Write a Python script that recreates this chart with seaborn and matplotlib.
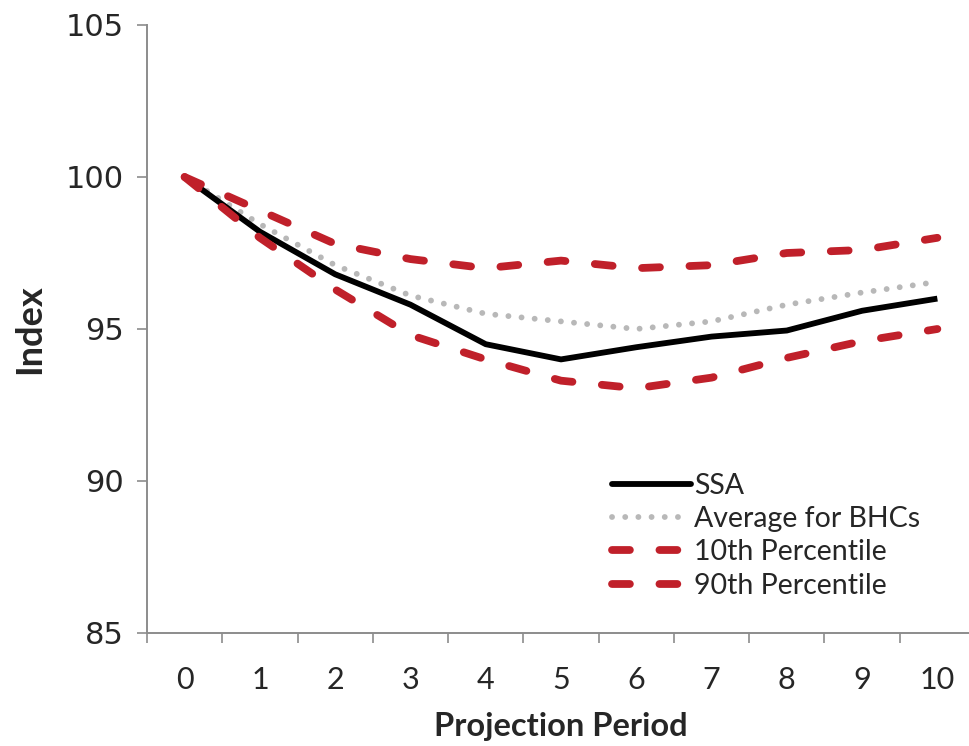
import matplotlib
matplotlib.use("Agg")
import matplotlib.pyplot as plt
from matplotlib.lines import Line2D
import numpy as np
import pandas as pd
import seaborn as sns

# Projection periods and index paths
periods = [0, 1, 2, 3, 4, 5, 6, 7, 8, 9, 10]
ssa = [100.0, 98.2, 96.8, 95.8, 94.5, 94.0, 94.4, 94.75, 94.95, 95.6, 96.0]
avg_bhc = [100.0, 98.45, 97.1, 96.1, 95.5, 95.25, 95.0, 95.25, 95.8, 96.2, 96.55]
p10 = [100.0, 98.0, 96.3, 94.8, 94.0, 93.3, 93.05, 93.4, 94.05, 94.6, 95.0]
p90 = [100.0, 98.9, 97.8, 97.3, 97.0, 97.25, 97.0, 97.1, 97.5, 97.6, 98.0]
series_names = ["SSA", "Average for BHCs", "10th Percentile", "90th Percentile"]
y_ticks = [85, 90, 95, 100, 105]

sns.set_theme(style="white")
plt.rcParams["font.family"] = ["DejaVu Sans"]

df = pd.DataFrame({
    "period": periods * 4,
    "value": ssa + avg_bhc + p10 + p90,
    "series": np.repeat(series_names, len(periods)),
})

fig = plt.figure(figsize=(9.70, 7.46), dpi=100)
ax = fig.add_axes([147 / 970, 1 - 633 / 746, (975 - 147) / 970, (633 - 25) / 746])

red = "#C0202A"
grey = "#B8B8B8"
dash = (0, (2.3, 3.8))
styles = {
    "SSA": dict(color="black", lw=4.2, ls="-", zorder=3),
    "Average for BHCs": dict(color=grey, lw=4.2, ls=(0, (0.01, 2.25)), zorder=2),
    "10th Percentile": dict(color=red, lw=5.6, ls=dash, zorder=4),
    "90th Percentile": dict(color=red, lw=5.6, ls=dash, zorder=4),
}

for name in series_names:
    st = styles[name]
    sub = df[df["series"] == name]
    sns.lineplot(data=sub, x="period", y="value", ax=ax, color=st["color"],
                 linewidth=st["lw"], legend=False, zorder=st["zorder"])
    line = ax.lines[-1]
    line.set_linestyle(st["ls"])
    line.set_dash_capstyle("round")
    line.set_solid_capstyle("butt")

label_family = ["Lato"]

ax.set_xlim(-0.5, 10.5)
ax.set_ylim(85, 105)
ax.set_yticks(y_ticks)
ax.set_xticks(periods)
ax.set_xticks(np.arange(-0.5, 10.6, 1.0), minor=True)
ax.tick_params(axis="x", which="major", length=0, pad=24, labelsize=22)
ax.tick_params(axis="x", which="minor", length=7, width=1.2, color="#8c8c8c", direction="out", bottom=True)
ax.tick_params(axis="y", which="major", length=7, width=1.2, color="#8c8c8c", direction="out", left=True,
               labelsize=22, pad=10)
for lab in ax.get_xticklabels():
    lab.set_family(label_family)

for s in ["top", "right"]:
    ax.spines[s].set_visible(False)
for s in ["left", "bottom"]:
    ax.spines[s].set_color("#8c8c8c")
    ax.spines[s].set_linewidth(1.4)

ax.set_xlabel("Projection Period", fontsize=23.5, fontweight="bold",
              family=label_family, labelpad=13)
ax.set_ylabel("Index", fontsize=26, fontweight="bold", family=label_family, labelpad=14)

handles = []
for name in series_names:
    st = styles[name]
    h = Line2D([], [], color=st["color"], lw=st["lw"], ls=st["ls"],
               dash_capstyle="round", solid_capstyle="round")
    handles.append(h)
leg = fig.legend(handles, series_names, loc="upper left", bbox_to_anchor=(586 / 970, 1 - 447 / 746),
                 frameon=False, handlelength=2.8, handletextpad=0.1, labelspacing=0.26,
                 prop={"family": label_family, "size": 20.5})

fig.savefig("out.png", dpi=100)
